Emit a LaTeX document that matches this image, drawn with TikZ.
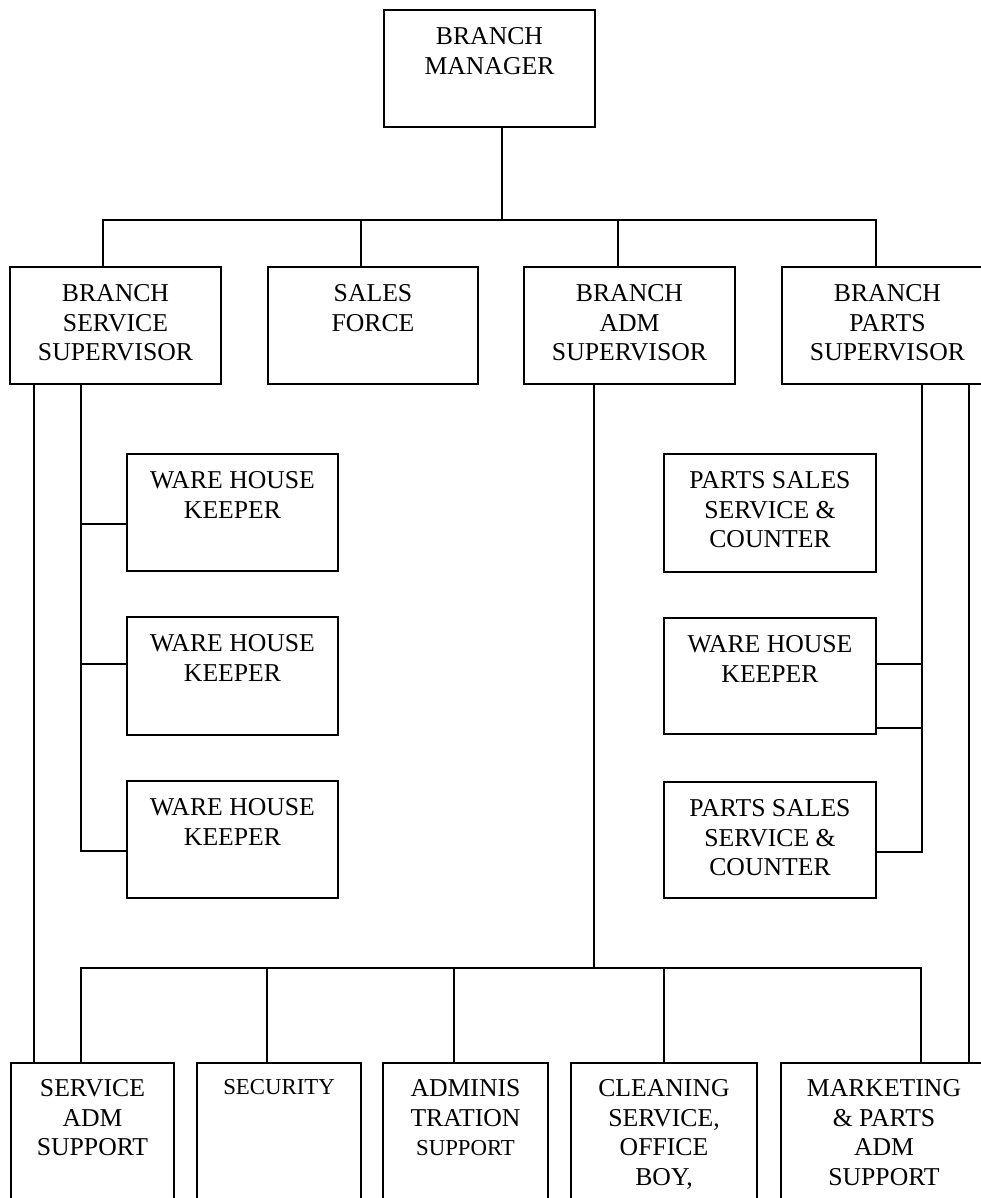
\documentclass[tikz,border=0pt]{standalone}
\usepackage{fontspec}
\setmainfont{Liberation Serif}
\usetikzlibrary{calc}
\tikzset{
  box/.style={draw, line width=1.8pt, inner sep=0pt, outer sep=0pt, anchor=north west, fill=white},
  txt/.style={align=center, inner sep=0pt, anchor=north, font=\fontsize{25.7}{29.6}\selectfont},
  conn/.style={line width=1.8pt, line cap=rect}
}
\newcommand{\bx}[7][-17.5]{%
  \node[box, minimum width=#5pt, minimum height=#6pt] (#2) at (#3,#4) {};
  \node[txt] (#2t) at ([yshift=#1pt]#2.north) {#7};}
\newcommand{\smallf}{\fontsize{22.8}{29.6}\selectfont}
\begin{document}
\begin{tikzpicture}[x=1pt,y=-1pt]
\useasboundingbox (0,0) rectangle (981,1198);
\clip (0,0) rectangle (981,1198);
\fill[white] (0,0) rectangle (981,1198);

% boxes
\bx{mgr}{384}{10}{211}{117}{BRANCH\\MANAGER}
\bx{bss}{10}{267}{211}{117}{BRANCH\\SERVICE\\SUPERVISOR}
\bx{sf}{268}{267}{210}{117}{SALES\\FORCE}
\bx{bas}{524}{267}{211}{117}{BRANCH\\ADM\\SUPERVISOR}
\bx{bps}{782}{267}{211}{117}{BRANCH\\PARTS\\SUPERVISOR}

\bx{whkA}{127}{454}{211}{117}{WARE HOUSE\\KEEPER}
\bx{whkB}{127}{617}{211}{118}{WARE HOUSE\\KEEPER}
\bx{whkC}{127}{781}{211}{117}{WARE HOUSE\\KEEPER}

\bx{psA}{664}{454}{212}{118}{PARTS SALES\\SERVICE \&\\COUNTER}
\bx{whkD}{664}{618}{212}{116}{WARE HOUSE\\KEEPER}
\bx{psB}{664}{782}{212}{116}{PARTS SALES\\SERVICE \&\\COUNTER}

\bx[-16.5]{sas}{11}{1063}{163}{200}{SERVICE\\ADM\\SUPPORT}
\bx[-16.5]{sec}{197}{1063}{164}{200}{\smallf SECURITY}
\bx[-16.5]{adm}{383}{1063}{165}{200}{ADMINIS\\TRATION\\\smallf SUPPORT}
\bx[-16.5]{cln}{571}{1063}{186}{200}{CLEANING\\SERVICE,\\OFFICE\\BOY,}
\bx[-16.5]{mkt}{781}{1063}{206}{200}{MARKETING\\\& PARTS\\ADM\\SUPPORT}

% top bus
\coordinate (tb) at (502,220);
\coordinate (tbA) at (103,220);
\coordinate (tbB) at (361,220);
\coordinate (tbC) at (618,220);
\coordinate (tbD) at (876,220);
\draw[conn] (tb |- mgr.south) -- (tb);
\draw[conn] (tbA) -- (tbD);
\draw[conn] (tbA) -- (tbA |- bss.north);
\draw[conn] (tbB) -- (tbB |- sf.north);
\draw[conn] (tbC) -- (tbC |- bas.north);
\draw[conn] (tbD) -- (tbD |- bps.north);

% left verticals
\coordinate (vLL) at (34,0);
\coordinate (vL) at (81,0);
\draw[conn] (bss.south -| vLL) -- (sas.north -| vLL);
\draw[conn] (bss.south -| vL) |- ($(whkC.north west)+(0,70)$);
\draw[conn] ($(whkA.north west)+(0,70)$) -- ($(whkA.north west)+(-46,70)$);
\draw[conn] ($(whkB.north west)+(0,47)$) -- ($(whkB.north west)+(-46,47)$);

% right verticals
\coordinate (vR) at (922,0);
\coordinate (vRR) at (969,0);
\draw[conn] (bps.south -| vRR) -- (mkt.north -| vRR);
\draw[conn] (bps.south -| vR) |- ($(psB.north east)+(0,70)$);
\draw[conn] ($(whkD.north east)+(0,46)$) -- ($(whkD.north east)+(46,46)$);
\draw[conn] ($(whkD.north east)+(0,110)$) -- ($(whkD.north east)+(46,110)$);

% bottom bus
\coordinate (bb) at (594,968);
\coordinate (bbA) at (81,968);
\coordinate (bbB) at (267,968);
\coordinate (bbC) at (454,968);
\coordinate (bbD) at (664,968);
\coordinate (bbE) at (921,968);
\draw[conn] (bas.south -| bb) -- (bb);
\draw[conn] (bbA) -- (bbE);
\draw[conn] (bbA) -- (bbA |- sas.north);
\draw[conn] (bbB) -- (bbB |- sec.north);
\draw[conn] (bbC) -- (bbC |- adm.north);
\draw[conn] (bbD) -- (bbD |- cln.north);
\draw[conn] (bbE) -- (bbE |- mkt.north);
\end{tikzpicture}
\end{document}
